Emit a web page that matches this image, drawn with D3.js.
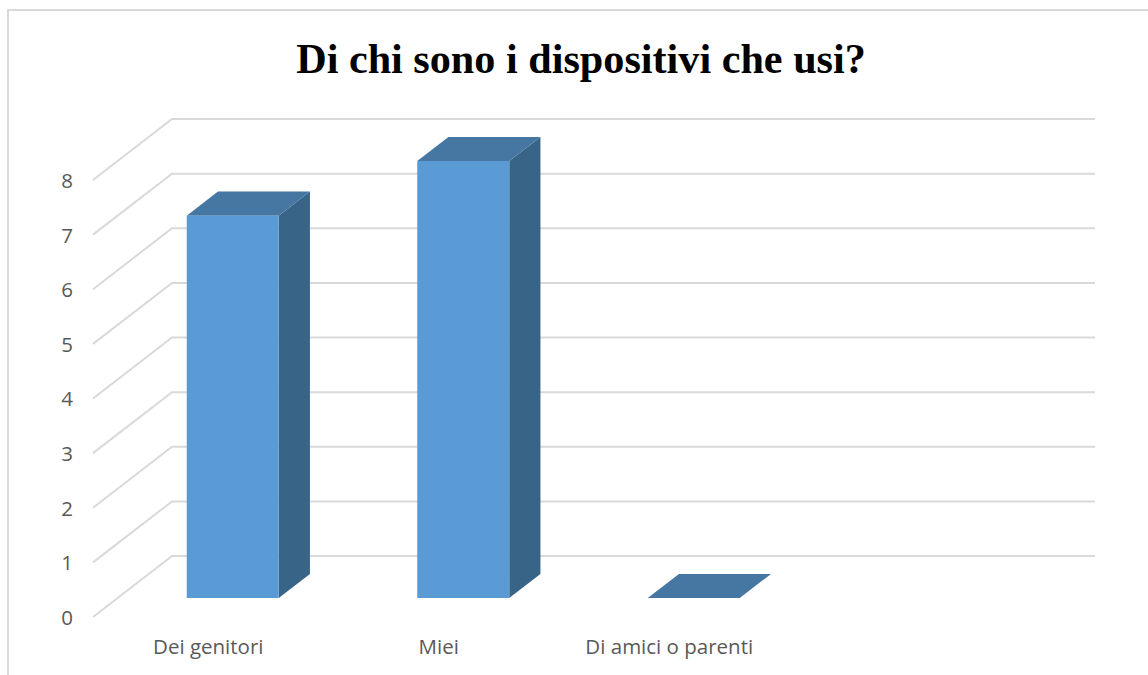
<!DOCTYPE html>
<html>
<head>
<meta charset="utf-8">
<script src="https://cdn.jsdelivr.net/npm/d3@7"></script>
<style>
  body { margin: 0; background: #fff; }
  svg { display: block; }
  .tick text { font-family: "Open Sans", sans-serif; fill: #595959; }
</style>
</head>
<body>
<script>
var titleText = "Di chi sono i dispositivi che usi?";
var categories = ["Dei genitori", "Miei", "Di amici o parenti"];
var values = [7, 8, 0];
var yTicks = [0, 1, 2, 3, 4, 5, 6, 7, 8];

var width = 1148,
    height = 675;

//floor of the 3d box, the vector goes from the front plane to the back wall
var depthX = 79,
    depthY = -61;
//where the bars sit inside the depth of the box
var barFront = 0.31,
    barBack = 0.705;

var svg = d3.select("body").append("svg")
    .attr("width", width)
    .attr("height", height);

//chart frame, cut by the image on the right and bottom
svg.append("path")
    .attr("d", d3.line()([[8, height], [8, 10], [width, 10]]))
    .attr("fill", "none")
    .attr("stroke", "#d9d9d9")
    .attr("stroke-width", 2);

svg.append("text")
    .attr("x", 581)
    .attr("y", 73)
    .attr("text-anchor", "middle")
    .attr("font-family", "Liberation Serif")
    .attr("font-weight", "bold")
    .attr("font-size", 42.2)
    .attr("fill", "#000")
    .text(titleText);

//scales work on the front plane of the box
var x = d3.scaleBand()
    .domain(categories)
    .range([93, 93 + 3 * 230.5]);

var y = d3.scaleLinear()
    .domain([0, 8])
    .range([617, 180]);

//gridlines go along the side wall then along the back wall
var grid = svg.append("g").attr("class", "grid");
grid.selectAll("path")
    .data(yTicks)
    .enter()
    .append("path")
    .attr("d", function(d) {
      return d3.line()([
        [93, y(d)],
        [93 + depthX, y(d) + depthY],
        [1095, y(d) + depthY]
      ]);
    })
    .attr("fill", "none")
    .attr("stroke", "#d9d9d9")
    .attr("stroke-width", 2);

//value labels
var yAxis = svg.append("g")
    .attr("transform", "translate(73,0)")
    .call(d3.axisLeft(y).tickValues(yTicks).tickFormat(d3.format("d")).tickSize(0).tickPadding(0));
yAxis.select(".domain").remove();
yAxis.selectAll("text").attr("font-size", 20.5).attr("dy", "0.36em");

//category labels
var xAxis = svg.append("g")
    .attr("transform", "translate(0,639)")
    .call(d3.axisBottom(x).tickSize(0).tickPadding(0));
xAxis.select(".domain").remove();
xAxis.selectAll("text").attr("font-size", 20.5).attr("dy", "0.71em");

//bars
var barWidth = 92;
var bars = svg.selectAll(".bar")
    .data(categories.map(function(c, i) { return { name: c, value: values[i] }; }))
    .enter()
    .append("g")
    .attr("class", "bar");

function corners(d) {
  var cx = x(d.name) + x.bandwidth() / 2 + depthX * barFront;
  var left = cx - barWidth / 2,
      right = cx + barWidth / 2,
      dx = depthX * (barBack - barFront),
      dy = depthY * (barBack - barFront),
      floor = y(0) + depthY * barFront,
      top = floor - (y(0) - y(d.value));
  return { left: left, right: right, dx: dx, dy: dy, floor: floor, top: top };
}

var outline = d3.line();

bars.filter(function(d) { return d.value > 0; })
    .append("path")
    .attr("d", function(d) {
      var c = corners(d);
      return outline([[c.right, c.top], [c.right + c.dx, c.top + c.dy],
        [c.right + c.dx, c.floor + c.dy], [c.right, c.floor]]) + "Z";
    })
    .attr("fill", "#386488");

bars.append("path")
    .attr("d", function(d) {
      var c = corners(d);
      return outline([[c.left, c.top], [c.left + c.dx, c.top + c.dy],
        [c.right + c.dx, c.top + c.dy], [c.right, c.top]]) + "Z";
    })
    .attr("fill", "#4676a2");

bars.filter(function(d) { return d.value > 0; })
    .append("path")
    .attr("d", function(d) {
      var c = corners(d);
      return outline([[c.left, c.top], [c.right, c.top], [c.right, c.floor], [c.left, c.floor]]) + "Z";
    })
    .attr("fill", "#5b9bd5");
</script>
</body>
</html>
